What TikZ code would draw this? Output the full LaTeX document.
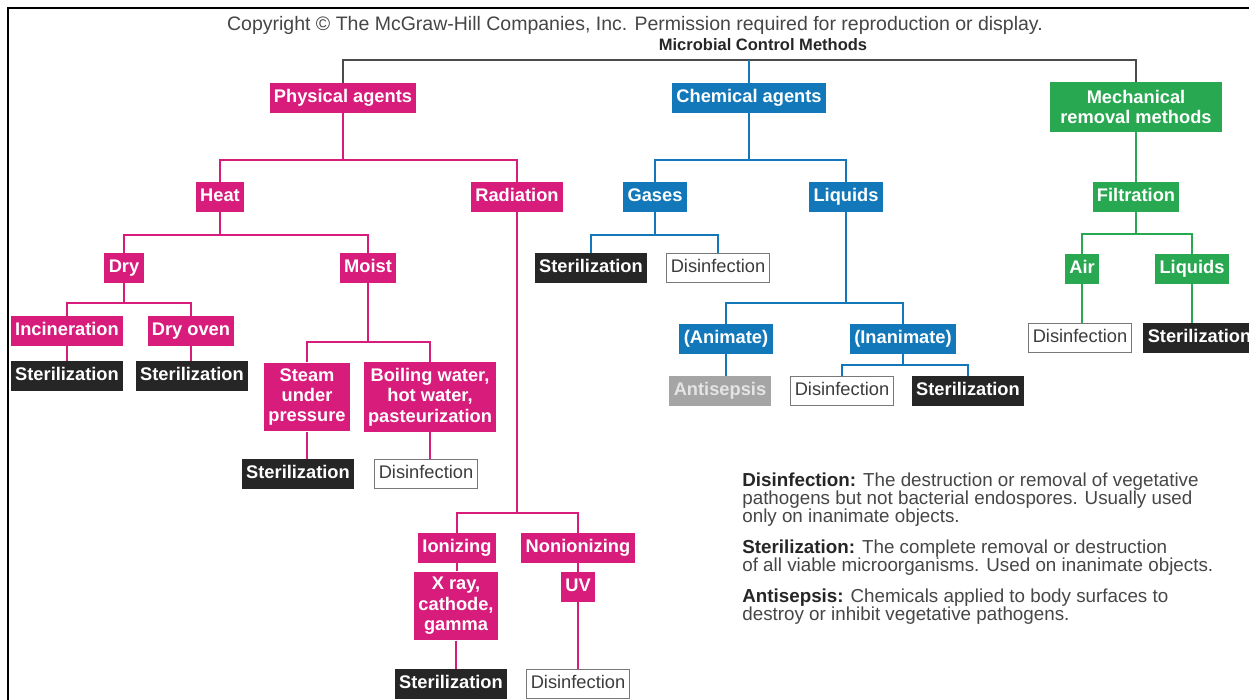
\documentclass[tikz,border=0pt]{standalone}
\usepackage{fontspec}
\setmainfont{Liberation Sans}
\definecolor{physcol}{RGB}{216,28,124}
\definecolor{chemcol}{RGB}{18,120,186}
\definecolor{mechcol}{RGB}{40,168,80}
\definecolor{stercol}{RGB}{38,38,38}
\definecolor{disicol}{RGB}{120,120,120}
\definecolor{disitext}{RGB}{60,60,60}
\definecolor{anticol}{RGB}{165,165,165}
\definecolor{antitext}{RGB}{228,228,228}
\definecolor{topcol}{RGB}{75,75,75}
\definecolor{legcol}{RGB}{70,70,70}
\newcommand{\boxfont}{\fontsize{10.4}{11.6}\selectfont}
\newcommand{\legfont}{\fontsize{10.7}{10.2}\selectfont}
\tikzset{
  box/.style={inner xsep=2.5pt, inner ysep=3.6pt, text height=7.4pt, text depth=2.2pt,
    font=\boxfont\bfseries, text=white},
  multibox/.style={inner xsep=2.5pt, inner ysep=3.3pt, align=center,
    font=\boxfont\bfseries, text=white},
  phys/.style={box, fill=physcol},
  chem/.style={box, fill=chemcol},
  mech/.style={box, fill=mechcol},
  ster/.style={box, fill=stercol},
  disi/.style={box, fill=white, draw=disicol, line width=0.8pt, text=disitext, font=\boxfont},
  anti/.style={box, fill=anticol, text=antitext},
  pl/.style={draw=physcol, line width=1.1pt},
  cl/.style={draw=chemcol, line width=1.1pt},
  ml/.style={draw=mechcol, line width=1.1pt},
  tl/.style={draw=topcol, line width=1.2pt},
  legend/.style={anchor=north west, align=left, inner sep=0pt, font=\legfont, text=legcol}
}
\begin{document}
\begin{tikzpicture}[x=0.02cm, y=-0.02cm]
  \useasboundingbox (0,0) rectangle (1249,700);
  \fill[white] (0,0) rectangle (1249,700);
  \draw[line width=1.3pt] (8,700) -- (8,8) -- (1249,8);

  % header
  \node[text=legcol, font=\fontsize{11.1}{13}\selectfont] (copy) at (635,25)
    {Copyright © The McGraw-Hill Companies, Inc. Permission required for reproduction or display.};
  \node[text=stercol, font=\fontsize{9.4}{11}\selectfont\bfseries] (title) at (763,45)
    {Microbial Control Methods};

  % first level
  \node[phys] (phys) at (343,98) {Physical agents};
  \node[chem] (chem) at (749,98) {Chemical agents};
  \node[multibox, fill=mechcol, minimum width=98pt, minimum height=28pt] (mech) at (1136,107)
    {Mechanical\\removal methods};
  \coordinate (top) at (749,60);
  \draw[tl] (phys.north) |- (top) -| (mech.north);
  \draw[cl] (chem.north) -- (top);

  % physical agents
  \node[phys] (heat) at (220,197) {Heat};
  \node[phys] (rad) at (517,197) {Radiation};
  \coordinate (jp) at (343,160);
  \draw[pl] (phys.south) -- (jp);
  \draw[pl] (heat.north) |- (jp) -| (rad.north);

  \node[phys] (dry) at (124,268) {Dry};
  \node[phys] (moist) at (368,268) {Moist};
  \coordinate (jh) at (220,235);
  \draw[pl] (heat.south) -- (jh);
  \draw[pl] (dry.north) |- (jh) -| (moist.north);

  \node[phys] (incin) at (67,331) {Incineration};
  \node[phys] (oven) at (191,331) {Dry oven};
  \node[ster] (ster1) at (67,376) {Sterilization};
  \node[ster] (ster2) at (192,376) {Sterilization};
  \coordinate (jd) at (124,303);
  \draw[pl] (dry.south) -- (jd);
  \draw[pl] (incin.north) |- (jd) -| (oven.north);
  \draw[pl] (incin.south) -- (ster1.north);
  \draw[pl] (oven.south) -- (oven.south |- ster2.north);

  \node[multibox, fill=physcol] (steam) at (307,397) {Steam\\under\\pressure};
  \node[multibox, fill=physcol] (boil) at (430,397) {Boiling water,\\hot water,\\pasteurization};
  \node[ster] (ster3) at (298,474) {Sterilization};
  \node[disi] (dis3) at (426,474) {Disinfection};
  \coordinate (jm) at (368,342);
  \draw[pl] (moist.south) -- (jm);
  \draw[pl] (steam.north) |- (jm) -| (boil.north);
  \draw[pl] (steam.south) -- (steam.south |- ster3.north);
  \draw[pl] (boil.south) -- (boil.south |- dis3.north);

  \node[phys] (ion) at (457,548) {Ionizing};
  \node[phys] (nonion) at (578,548) {Nonionizing};
  \node[multibox, fill=physcol] (xray) at (456,606) {X ray,\\cathode,\\gamma};
  \node[phys] (uv) at (578,587) {UV};
  \node[ster] (ster4) at (451,684) {Sterilization};
  \node[disi] (dis4) at (578,684) {Disinfection};
  \coordinate (jr) at (517,513);
  \draw[pl] (rad.south) -- (jr);
  \draw[pl] (ion.north) |- (jr) -| (nonion.north);
  \draw[pl] (ion.south) -- (ion.south |- xray.north);
  \draw[pl] (xray.south) -- (xray.south |- ster4.north);
  \draw[pl] (nonion.south) -- (uv.north);
  \draw[pl] (uv.south) -- (dis4.north);

  % chemical agents
  \node[chem] (gases) at (655,197) {Gases};
  \node[chem] (liq) at (846,197) {Liquids};
  \coordinate (jc) at (749,160);
  \draw[cl] (chem.south) -- (jc);
  \draw[cl] (gases.north) |- (jc) -| (liq.north);

  \node[ster] (ster5) at (591,268) {Sterilization};
  \node[disi] (dis5) at (718,268) {Disinfection};
  \coordinate (jg) at (655,235);
  \draw[cl] (gases.south) -- (jg);
  \draw[cl] (ster5.north) |- (jg) -| (dis5.north);

  \node[chem] (anim) at (726,339) {(Animate)};
  \node[chem] (inan) at (903,339) {(Inanimate)};
  \coordinate (jl) at (846,303);
  \draw[cl] (liq.south) -- (jl);
  \draw[cl] (anim.north) |- (jl) -| (inan.north);

  \node[anti] (antis) at (720,391) {Antisepsis};
  \node[disi] (dis6) at (842,391) {Disinfection};
  \node[ster] (ster6) at (968,391) {Sterilization};
  \coordinate (ji) at (903,365);
  \draw[cl] (anim.south) -- (anim.south |- antis.north);
  \draw[cl] (inan.south) -- (ji);
  \draw[cl] (dis6.north) |- (ji) -| (ster6.north);

  % mechanical removal
  \node[mech] (filt) at (1136,197) {Filtration};
  \node[mech] (air) at (1082,269) {Air};
  \node[mech] (liqm) at (1192,269) {Liquids};
  \node[disi] (dis7) at (1080,338) {Disinfection};
  \node[ster, anchor=west] (ster7) at (1143,338) {Sterilization};
  \coordinate (jf) at (1136,234);
  \draw[ml] (mech.south) -- (filt.north);
  \draw[ml] (filt.south) -- (jf);
  \draw[ml] (air.north) |- (jf) -| (liqm.north);
  \draw[ml] (air.south) -- (air.south |- dis7.north);
  \draw[ml] (liqm.south) -- (liqm.south |- ster7.north);

  % definitions
  \node[legend] (leg1) at (742,473) {\textbf{\color{stercol}Disinfection:} The destruction or removal of vegetative\\
    pathogens but not bacterial endospores. Usually used\\only on inanimate objects.};
  \node[legend] (leg2) at (742,540) {\textbf{\color{stercol}Sterilization:} The complete removal or destruction\\
    of all viable microorganisms. Used on inanimate objects.};
  \node[legend] (leg3) at (742,589) {\textbf{\color{stercol}Antisepsis:} Chemicals applied to body surfaces to\\
    destroy or inhibit vegetative pathogens.};
\end{tikzpicture}
\end{document}
